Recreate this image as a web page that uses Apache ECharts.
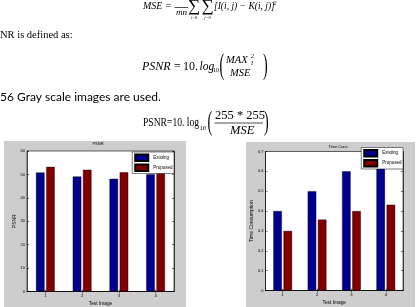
<!DOCTYPE html>
<html>
<head>
<meta charset="utf-8">
<script src="https://cdn.jsdelivr.net/npm/echarts@6/dist/echarts.min.js"></script>
<style>
html,body{margin:0;padding:0;background:#fff;}
#c{width:417px;height:307px;}
</style>
</head>
<body>
<div id="c"></div>
<script>
// ---- data ----
const categories = ['1', '2', '3', '4'];
const seriesNames = ['Existing', 'Proposed'];
const psnrExisting = [50.8, 49.1, 48.1, 50.1];
const psnrProposed = [53.2, 52.0, 50.9, 52.0];
const timeExisting = [0.40, 0.50, 0.60, 0.626];
const timeProposed = [0.30, 0.357, 0.40, 0.432];
const psnrAxisRange = [0, 60, 10];
const timeAxisRange = [0, 0.7, 0.1];
const chartTitles = ['PSNR', 'Time Cons'];
const xAxisName = 'Test Image';
const yAxisNames = ['PSNR', 'Time Consumption'];

const BLUE = '#00008f', RED = '#800000', GREY = '#cdcdcd';
const serif = '"Liberation Serif", "DejaVu Serif", serif';
const sans = 'Arial, "Liberation Sans", sans-serif';

function T(x, y, text, size, opts) {
  opts = opts || {};
  return {
    type: 'text', x: x, y: y, z: 100, silent: true,
    scaleX: opts.sx || 1, scaleY: opts.sy || 1,
    style: {
      text: text, fontSize: size, fontFamily: opts.family || serif,
      fontStyle: opts.italic ? 'italic' : 'normal',
      fontWeight: 'normal',
      fill: opts.color || '#000',
      textAlign: opts.align || 'left', textVerticalAlign: 'middle',
      align: opts.align || 'left', verticalAlign: 'middle'
    }
  };
}
function L(x1, y, x2) {
  return { type: 'line', z: 100, silent: true, shape: { x1: x1, y1: y, x2: x2, y2: y }, style: { stroke: '#000', lineWidth: 0.7 } };
}

const graphics = [
  { type: 'rect', z: -10, silent: true, shape: { x: 4, y: 141, width: 182, height: 170 }, style: { fill: GREY } },
  { type: 'rect', z: -10, silent: true, shape: { x: 246, y: 142, width: 169, height: 170 }, style: { fill: GREY } },
  // MSE formula (top clipped)
  T(143, 6, 'MSE =', 10, { italic: true }),
  L(174.5, 7.5, 188),
  T(181.5, 13, 'mn', 9, { italic: true, align: 'center' }),
  T(194, 7, '\u2211', 17, { align: 'center' }),
  T(207.5, 7, '\u2211', 17, { align: 'center' }),
  T(194, 17.5, 'i=0', 4.5, { italic: true, align: 'center' }),
  T(207.5, 17.5, 'j=0', 4.5, { italic: true, align: 'center' }),
  T(214, 6, '[I(i, j) \u2212 K(i, j)]', 9.5, { italic: true }),
  T(273.5, 3, '2', 6, { italic: true }),
  // sentence
  T(0, 35, 'NR is defined as:', 10.5),
  // PSNR = 10.log10(MAX^2/MSE)
  T(142, 67, 'PSNR', 12, { italic: true }),
  T(174, 67, '=', 12),
  T(183, 67, '10.', 12),
  T(199.5, 67, 'log', 11.5, { italic: true }),
  T(213, 70.5, '10', 6),
  T(219.5, 66, '(', 14, { sy: 2.1 }),
  T(226, 60, 'MAX', 10.5, { italic: true }),
  T(251, 56.5, '2', 6, { italic: true }),
  T(251, 63, 'I', 6, { italic: true }),
  T(230, 73, 'MSE', 10.5, { italic: true }),
  T(263, 66, ')', 14, { sy: 2.1 }),
  // sentence 2
  T(0, 97, '56 Gray scale images are used.', 12, { family: 'Lato, "Open Sans", sans-serif' }),
  // PSNR=10.log10(255*255/MSE)
  T(143, 123, 'PSNR=10. log', 12, { sx: 0.8 }),
  T(199.5, 128, '10', 6.5),
  T(207.5, 123, '(', 14, { sy: 2.0 }),
  T(215, 115.5, '255 * 255', 12.5),
  L(214.5, 123, 263),
  T(230, 131, 'MSE', 12.5, { italic: true }),
  T(264, 123, ')', 14, { sy: 2.0 }),
  // chart titles
  T(98, 143.5, chartTitles[0], 4, { family: sans, align: 'center' }),
  T(338, 147, chartTitles[1], 4, { family: sans, align: 'center' })
];

const grids = [
  { left: 27, top: 151, width: 147, height: 140.5 },
  { left: 265.5, top: 151.5, width: 137.5, height: 139 }
].map(g => Object.assign(g, { show: true, backgroundColor: '#fff', borderColor: '#000', borderWidth: 0.6, containLabel: false }));

const lineStyle = { show: true, lineStyle: { color: '#000', width: 0.6 } };
const tickStyle = { show: true, inside: true, length: 2, lineStyle: { color: '#000', width: 0.5 } };

function xAxes(i) {
  return [
    { type: 'category', gridIndex: i, data: categories, position: 'bottom', boundaryGap: true,
      axisLine: lineStyle, axisTick: Object.assign({ alignWithLabel: true }, tickStyle),
      axisLabel: { fontSize: 4.2, color: '#000', margin: 2.5, fontFamily: sans },
      name: xAxisName, nameLocation: 'middle', nameGap: 9.5,
      nameTextStyle: { fontSize: 4.8, color: '#000', fontFamily: sans } },
    { type: 'category', gridIndex: i, data: categories, position: 'top', boundaryGap: true,
      axisLine: lineStyle, axisTick: Object.assign({ alignWithLabel: true }, tickStyle),
      axisLabel: { show: false } }
  ];
}
function yAxes(i, r) {
  return [
    { type: 'value', gridIndex: i, position: 'left', min: r[0], max: r[1], interval: r[2],
      axisLine: lineStyle, axisTick: tickStyle, splitLine: { show: false },
      axisLabel: { fontSize: 4, color: '#000', margin: 2, fontFamily: sans },
      name: yAxisNames[i], nameLocation: 'middle', nameGap: i === 0 ? 10 : 9.5, nameRotate: 90,
      nameTextStyle: { fontSize: 5, color: '#000', fontFamily: sans } },
    { type: 'value', gridIndex: i, position: 'right', min: r[0], max: r[1], interval: r[2],
      axisLine: lineStyle, axisTick: tickStyle, splitLine: { show: false },
      axisLabel: { show: false } }
  ];
}

function bar(name, data, i, color) {
  return {
    name: name, type: 'bar', data: data, xAxisIndex: i * 2, yAxisIndex: i * 2,
    barWidth: 8.5, barGap: '20%',
    itemStyle: { color: color, borderColor: '#000', borderWidth: 0.4 },
    emphasis: { disabled: true }, animation: false
  };
}

function legend(right, top) {
  return {
    right: right, top: top, orient: 'vertical', icon: 'rect', data: seriesNames,
    itemWidth: 13, itemHeight: 6.5, itemGap: 1.5, padding: [1.5, 1.5, 1.5, 2],
    backgroundColor: '#fff', borderColor: '#000', borderWidth: 0.5, borderRadius: 0,
    selectedMode: false,
    textStyle: { fontSize: 4.5, color: '#000', fontFamily: sans }
  };
}

const chart = echarts.init(document.getElementById('c'), null, { renderer: 'canvas' });
chart.setOption({
  animation: false,
  backgroundColor: '#fff',
  graphic: { elements: graphics },
  grid: grids,
  xAxis: xAxes(0).concat(xAxes(1)),
  yAxis: yAxes(0, psnrAxisRange).concat(yAxes(1, timeAxisRange)),
  legend: [legend(417 - 174, 152), legend(417 - 403, 147.5)],
  series: [
    bar(seriesNames[0], psnrExisting, 0, BLUE),
    bar(seriesNames[1], psnrProposed, 0, RED),
    bar(seriesNames[0], timeExisting, 1, BLUE),
    bar(seriesNames[1], timeProposed, 1, RED)
  ]
});
</script>
</body>
</html>
